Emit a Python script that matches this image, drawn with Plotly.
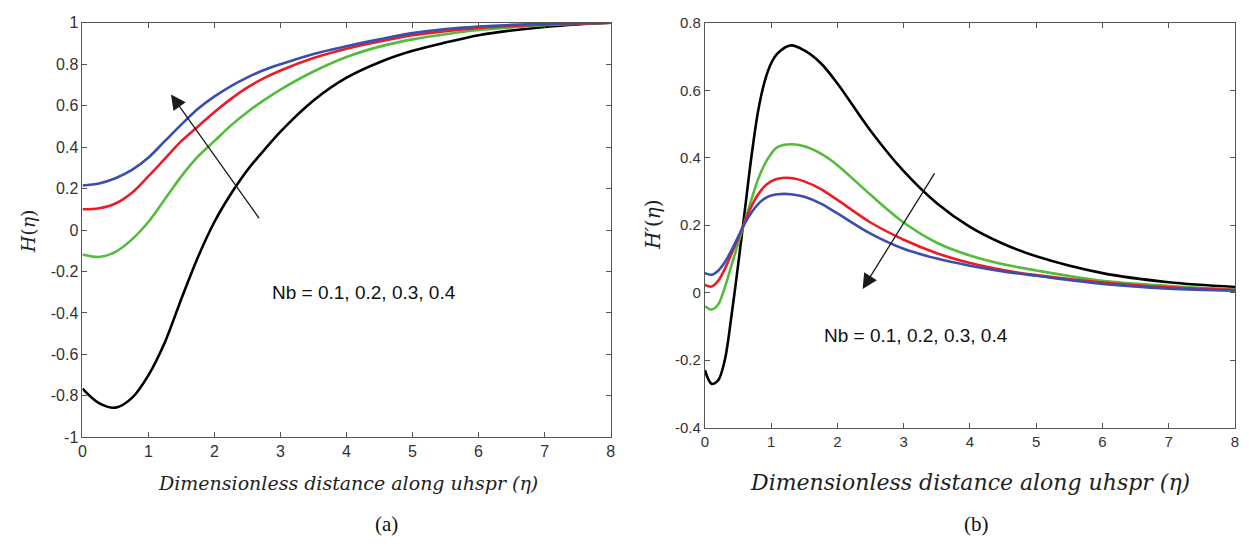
import plotly.graph_objects as go

# ---------------- data ----------------
nb_label = "Nb = 0.1, 0.2, 0.3, 0.4"

eta_a = [0, 0.25, 0.5, 0.75, 1.0, 1.25, 1.5, 1.75, 2.0, 2.25, 2.5, 2.75, 3.0, 3.5, 4.0, 4.5, 5.0, 5.5, 6.0, 6.5, 7.0, 7.5, 8.0]
H_black = [-0.765, -0.835, -0.857, -0.81, -0.70, -0.54, -0.33, -0.13, 0.04, 0.175, 0.29, 0.385, 0.475, 0.625, 0.735, 0.81, 0.865, 0.905, 0.94, 0.963, 0.98, 0.992, 1.0]
H_green = [-0.118, -0.13, -0.105, -0.045, 0.04, 0.15, 0.26, 0.355, 0.43, 0.505, 0.57, 0.627, 0.678, 0.765, 0.835, 0.885, 0.92, 0.945, 0.965, 0.978, 0.988, 0.995, 1.0]
H_red = [0.10, 0.105, 0.128, 0.18, 0.26, 0.345, 0.43, 0.50, 0.57, 0.633, 0.688, 0.733, 0.77, 0.83, 0.875, 0.91, 0.94, 0.96, 0.975, 0.985, 0.992, 0.996, 1.0]
H_blue = [0.215, 0.225, 0.25, 0.29, 0.35, 0.43, 0.51, 0.585, 0.645, 0.695, 0.737, 0.772, 0.80, 0.85, 0.887, 0.92, 0.95, 0.97, 0.982, 0.99, 0.995, 0.998, 1.0]

eta_b = [0, 0.1, 0.2, 0.3, 0.4, 0.5, 0.6, 0.7, 0.8, 0.9, 1.0, 1.1, 1.3, 1.5, 1.75, 2.0, 2.5, 3.0, 3.5, 4.0, 4.5, 5.0, 6.0, 7.0, 8.0]
dH_black = [-0.23, -0.27, -0.26, -0.20, -0.07, 0.08, 0.24, 0.40, 0.535, 0.625, 0.68, 0.71, 0.733, 0.718, 0.68, 0.62, 0.48, 0.36, 0.265, 0.195, 0.145, 0.108, 0.058, 0.031, 0.017]
dH_green = [-0.04, -0.05, -0.035, 0.015, 0.08, 0.145, 0.21, 0.275, 0.335, 0.38, 0.412, 0.432, 0.44, 0.434, 0.412, 0.378, 0.29, 0.208, 0.148, 0.11, 0.084, 0.066, 0.035, 0.02, 0.01]
dH_red = [0.023, 0.018, 0.035, 0.07, 0.115, 0.16, 0.21, 0.255, 0.29, 0.315, 0.33, 0.338, 0.34, 0.33, 0.307, 0.275, 0.208, 0.157, 0.117, 0.088, 0.067, 0.052, 0.03, 0.016, 0.008]
dH_blue = [0.058, 0.053, 0.065, 0.09, 0.125, 0.165, 0.205, 0.237, 0.262, 0.279, 0.288, 0.292, 0.292, 0.284, 0.264, 0.235, 0.175, 0.13, 0.101, 0.08, 0.063, 0.05, 0.026, 0.012, 0.006]

x_ticks = [0, 1, 2, 3, 4, 5, 6, 7, 8]
ya_ticks = [-1, -0.8, -0.6, -0.4, -0.2, 0, 0.2, 0.4, 0.6, 0.8, 1]
ya_text = ["-1", "-0.8", "-0.6", "-0.4", "-0.2", "0", "0.2", "0.4", "0.6", "0.8", "1"]
yb_ticks = [-0.4, -0.2, 0, 0.2, 0.4, 0.6, 0.8]
yb_text = ["-0.4", "-0.2", "0", "0.2", "0.4", "0.6", "0.8"]

colors = ["#000000", "#55bb3c", "#ec1c24", "#3a4eb0"]

# ---------------- figure ----------------
# the page body keeps its default 8px margin, so the figure is 16px smaller than the window
OFF = 8
W, H = 1249 - 2 * OFF, 548 - 2 * OFF

def fx(px):
    return (px - OFF) / W

def fy(py):
    return 1 - (py - OFF) / H

fig = go.Figure()
for ys, c in zip([H_black, H_green, H_red, H_blue], colors):
    fig.add_trace(go.Scatter(x=eta_a, y=ys, mode="lines", line=dict(color=c, width=2.6, shape="spline", smoothing=0.9),
                             xaxis="x", yaxis="y", showlegend=False, hoverinfo="skip"))
for ys, c in zip([dH_black, dH_green, dH_red, dH_blue], colors):
    fig.add_trace(go.Scatter(x=eta_b, y=ys, mode="lines", line=dict(color=c, width=2.6, shape="spline", smoothing=0.9),
                             xaxis="x2", yaxis="y2", showlegend=False, hoverinfo="skip"))

def axis_style(size):
    return dict(showline=True, mirror="allticks", linecolor="#555555", linewidth=1,
                ticks="inside", ticklen=5, tickcolor="#555555", showgrid=False, zeroline=False,
                ticklabeloverflow="allow",
                tickfont=dict(family="Liberation Sans, Arial", size=size, color="#333333"))

fig.update_layout(
    width=W, height=H,
    margin=dict(l=0, r=0, t=0, b=0),
    paper_bgcolor="white", plot_bgcolor="white",
    xaxis=dict(domain=[fx(79), fx(611)], range=[0, 8], tickvals=x_ticks, anchor="y", **axis_style(16)),
    yaxis=dict(domain=[fy(443), fy(14)], range=[-1, 1], tickvals=ya_ticks, ticktext=ya_text, anchor="x", **axis_style(16)),
    xaxis2=dict(domain=[fx(706), fx(1240)], range=[0, 8], tickvals=x_ticks, anchor="y2", **axis_style(15)),
    yaxis2=dict(domain=[fy(433), fy(14)], range=[-0.4, 0.8], tickvals=yb_ticks, ticktext=yb_text, anchor="x2", **axis_style(15)),
)

serif = "DejaVu Serif, serif"
def paper_text(px, py, text, size, family=serif, angle=0, color="#222222"):
    return dict(x=fx(px), y=fy(py), xref="paper", yref="paper", xanchor="center", yanchor="middle",
                showarrow=False, textangle=angle, text=text, font=dict(family=family, size=size, color=color))

annots = [
    # arrows
    dict(x=1.34, y=0.654, ax=2.69, ay=0.05, xref="x", yref="y", axref="x", ayref="y",
         showarrow=True, arrowhead=2, arrowsize=2.3, arrowwidth=1.3, arrowcolor="#1a1a1a", text=""),
    dict(x=2.38, y=0.011, ax=3.48, ay=0.358, xref="x2", yref="y2", axref="x2", ayref="y2",
         showarrow=True, arrowhead=2, arrowsize=2.3, arrowwidth=1.3, arrowcolor="#1a1a1a", text=""),
    # Nb labels
    dict(x=4.26, y=-0.30, xref="x", yref="y", text=nb_label, showarrow=False, xanchor="center", yanchor="middle",
         font=dict(family="Liberation Sans, Arial", size=19, color="#111111")),
    dict(x=3.18, y=-0.126, xref="x2", yref="y2", text=nb_label, showarrow=False, xanchor="center", yanchor="middle",
         font=dict(family="Liberation Sans, Arial", size=19, color="#111111")),
    # x titles
    paper_text(346, 490, "<i>Dimensionless distance along uhspr (η)</i>", 19),
    paper_text(973, 490, "<i>Dimensionless distance along uhspr (η)</i>", 22),
    # y titles
    paper_text(25, 230, "<i>H</i>(<i>η</i>)", 19, angle=-90),
    paper_text(653, 223, "<i>H′</i>(<i>η</i>)", 20, angle=-90),
    # panel labels
    paper_text(385, 533, "(a)", 21, family="Liberation Serif, Times New Roman, serif", color="#111111"),
    paper_text(980, 533, "(b)", 21, family="Liberation Serif, Times New Roman, serif", color="#111111"),
]
fig.update_layout(annotations=annots)

fig.write_html("out.html", config={"displayModeBar": False})
